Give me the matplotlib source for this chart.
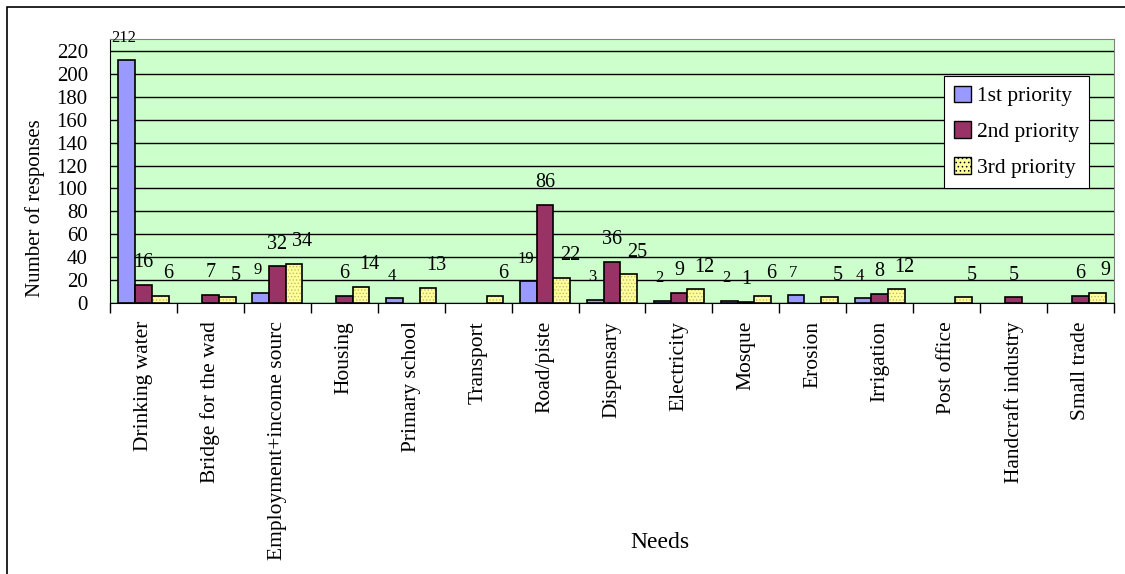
import numpy as np
import matplotlib.pyplot as plt
from matplotlib.patches import Patch, Rectangle

plt.rcParams['font.family'] = ['Liberation Serif', 'DejaVu Serif']
plt.rcParams['hatch.linewidth'] = 0.6

# data
needs = ['Drinking water', 'Bridge for the wad', 'Employment+income sourc',
         'Housing', 'Primary school', 'Transport', 'Road/piste', 'Dispensary',
         'Electricity', 'Mosque', 'Erosion', 'Irrigation', 'Post office',
         'Handcraft industry', 'Small trade']
first = [212, 0, 9, 0, 4, 0, 19, 3, 2, 2, 7, 4, 0, 0, 0]
second = [16, 7, 32, 6, 0, 0, 86, 36, 9, 1, 0, 8, 0, 5, 6]
third = [6, 5, 34, 14, 13, 6, 22, 25, 12, 6, 5, 12, 5, 0, 9]
series_names = ['1st priority', '2nd priority', '3rd priority']
colors = ['#9999FF', '#993366', '#FFFF99']


def no_zero(vals):
    # zero bars are not drawn at all in the original
    v = np.array(vals, dtype=float)
    v[v == 0] = np.nan
    return v


fig = plt.figure(figsize=(11.25, 5.74), dpi=100)
ax = fig.add_axes([110/1125, 1 - 303/574, (1114-110)/1125, (303-39)/574])
ax.set_facecolor('#CCFFCC')

x = np.arange(len(needs))
w = 0.25

ax.bar(x - w, no_zero(first), w, color=colors[0], edgecolor='black', linewidth=1.2, zorder=3)
ax.bar(x, no_zero(second), w, color=colors[1], edgecolor='black', linewidth=1.2, zorder=3)
# yellow bars: dotted fill, then black outline on top
ax.bar(x + w, no_zero(third), w, color=colors[2], edgecolor='#BDBD70', hatch='.....',
       linewidth=0, zorder=3)
ax.bar(x + w, no_zero(third), w, fill=False, edgecolor='black', linewidth=1.2, zorder=4)

# value labels (zeros not shown)
for vals, off, dx, fs in [(first, -w, -2, 12), (second, 0, 0, 14.5), (third, w, 6, 14.5)]:
    for xi, v in zip(x, vals):
        if v == 0:
            continue
        ax.annotate(str(v), (xi + off, v), xytext=(dx, 16), textcoords='offset points',
                    ha='center', va='center', fontsize=fs, annotation_clip=False, zorder=5)

ax.set_xlim(-0.5, len(needs) - 0.5)
ax.set_ylim(0, 230.5)
ax.set_yticks(range(0, 221, 20))
ax.yaxis.grid(True, color='black', linewidth=1)
ax.set_axisbelow(True)
ax.tick_params(axis='y', labelsize=15, length=0, pad=16)

ax.set_xticks(x)
ax.set_xticklabels(needs, rotation=90, fontsize=15.5)
ax.set_xticks(np.arange(len(needs) + 1) - 0.5, minor=True)
ax.tick_params(axis='x', which='major', length=0, pad=13)
ax.tick_params(axis='x', which='minor', length=7, width=1, direction='out')

for s in ['top', 'right']:
    ax.spines[s].set_color('#808080')
for s in ['left', 'bottom']:
    ax.spines[s].set_color('black')

# legend
handles = [Patch(facecolor=colors[0], edgecolor='black'),
           Patch(facecolor=colors[1], edgecolor='black'),
           Patch(facecolor=colors[2], edgecolor='black', hatch='....')]
leg = ax.legend(handles, series_names, loc='upper left',
                bbox_to_anchor=((944-110)/(1114-110), (303-76)/(303-39)),
                fontsize=15.5, frameon=True, fancybox=False, edgecolor='black',
                framealpha=1, borderpad=0.45, labelspacing=0.7,
                handlelength=0.8, handleheight=0.8, handletextpad=0.3,
                borderaxespad=0)
leg.get_frame().set_linewidth(0.8)

fig.text(660/1125, 1 - 543/574, 'Needs', fontsize=17, ha='center', va='center')
fig.text(35/1125, 1 - 297/574, 'Number of responses', fontsize=15, rotation=90,
         rotation_mode='anchor', ha='left', va='center')

# outer chart frame
fig.patches.append(Rectangle((7/1125, -0.05), 1.2, 1 - 7/574 + 0.05,
                             transform=fig.transFigure, fill=False,
                             edgecolor='black', linewidth=1.2))

fig.savefig('out.png', dpi=100)
